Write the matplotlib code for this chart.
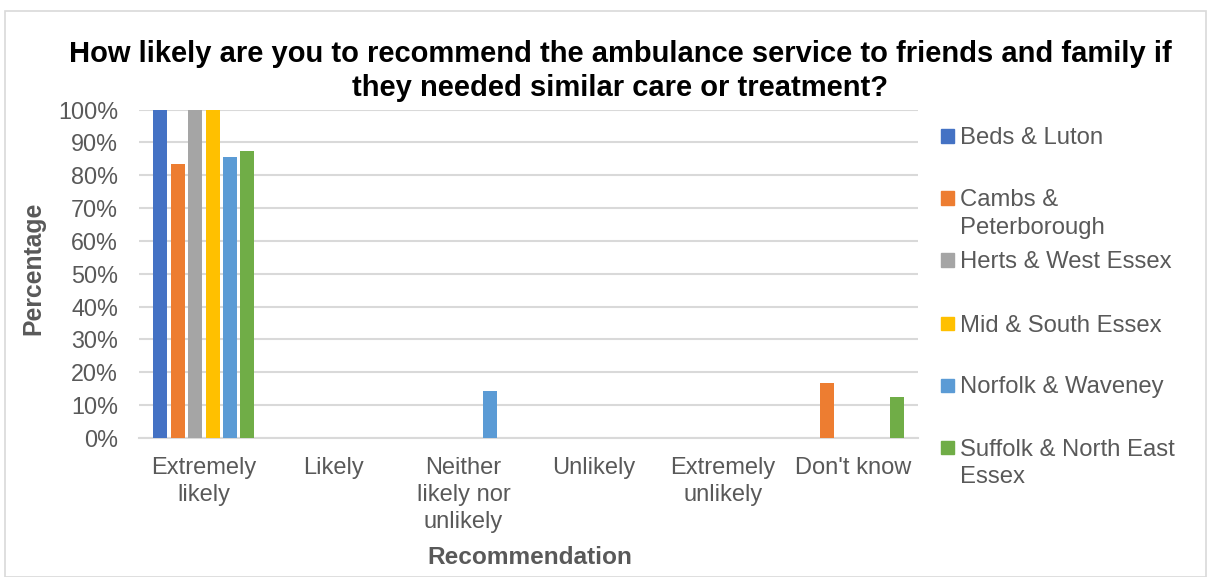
import matplotlib
matplotlib.use("Agg")
import matplotlib.pyplot as plt
from matplotlib.patches import Rectangle
import numpy as np

plt.rcParams['font.family'] = ['Liberation Sans', 'DejaVu Sans']

categories = ["Extremely\nlikely", "Likely", "Neither\nlikely nor\nunlikely", "Unlikely",
              "Extremely\nunlikely", "Don't know"]
series_names = ["Beds & Luton", "Cambs &\nPeterborough", "Herts & West Essex",
                "Mid & South Essex", "Norfolk & Waveney", "Suffolk & North East\nEssex"]
beds = [100, 0, 0, 0, 0, 0]
cambs = [83.3, 0, 0, 0, 0, 16.7]
herts = [100, 0, 0, 0, 0, 0]
mid = [100, 0, 0, 0, 0, 0]
norfolk = [85.7, 0, 14.3, 0, 0, 0]
suffolk = [87.5, 0, 0, 0, 0, 12.5]
colors = ["#4472C4", "#ED7D31", "#A5A5A5", "#FFC000", "#5B9BD5", "#70AD47"]
yticks = [0, 10, 20, 30, 40, 50, 60, 70, 80, 90, 100]

series = [beds, cambs, herts, mid, norfolk, suffolk]

W, H = 1207, 577
fig = plt.figure(figsize=(W / 100, H / 100), dpi=100)
ax = fig.add_axes([139 / W, 1 - 437.7 / H, (918 - 139) / W, (437.7 - 109.7) / H])

x = np.arange(len(categories))
step = 0.134
bw = 0.108
for i, (vals, c) in enumerate(zip(series, colors)):
    ax.bar(x + (i - 2.5) * step, vals, width=bw, color=c, zorder=3)

ax.set_xlim(-0.5, len(categories) - 0.5)
ax.set_ylim(0, 100)
ax.set_yticks(yticks)
ax.set_yticklabels([f"{t}%" for t in yticks])
ax.set_xticks(x)
ax.set_xticklabels(categories, linespacing=1.3)
ax.tick_params(axis='y', length=0, pad=15, labelsize=16.8, labelcolor="#595959")
ax.tick_params(axis='x', length=0, pad=14, labelsize=17, labelcolor="#595959")
ax.grid(axis='y', color="#D9D9D9", linewidth=1.5, zorder=0)
for s in ["top", "right", "left"]:
    ax.spines[s].set_visible(False)
ax.spines["bottom"].set_color("#D9D9D9")
ax.spines["bottom"].set_linewidth(1.5)

fig.text(33 / W, 1 - 268 / H, "Percentage", fontsize=17.8, fontweight="bold",
         color="#595959", ha="center", va="center", rotation=90)
fig.text(530 / W, 1 - 558 / H, "Recommendation", fontsize=17.6, fontweight="bold",
         color="#595959", ha="center", va="center")

fig.text(620 / W, 1 - 71 / H,
         "How likely are you to recommend the ambulance service to friends and family if\nthey needed similar care or treatment?",
         fontsize=21, fontweight="bold", color="black", ha="center", va="center",
         linespacing=1.27)

# legend drawn manually
leg_y = [136, 198, 260, 323, 385, 447]
for name, c, yy in zip(series_names, colors, leg_y):
    fig.patches.append(Rectangle((941 / W, 1 - (yy + 6.5) / H), 13 / W, 13 / H,
                                 transform=fig.transFigure, color=c))
    fig.text(960 / W, 1 - (yy - 8.5) / H, name, fontsize=17.2, color="#595959",
             ha="left", va="top", linespacing=1.3)

fig.patches.append(Rectangle((5 / W, 0), 1 - 6 / W, 1 - 11 / H, transform=fig.transFigure,
                             fill=False, edgecolor="#D9D9D9", linewidth=1.2))

fig.savefig("out.png", dpi=100)
